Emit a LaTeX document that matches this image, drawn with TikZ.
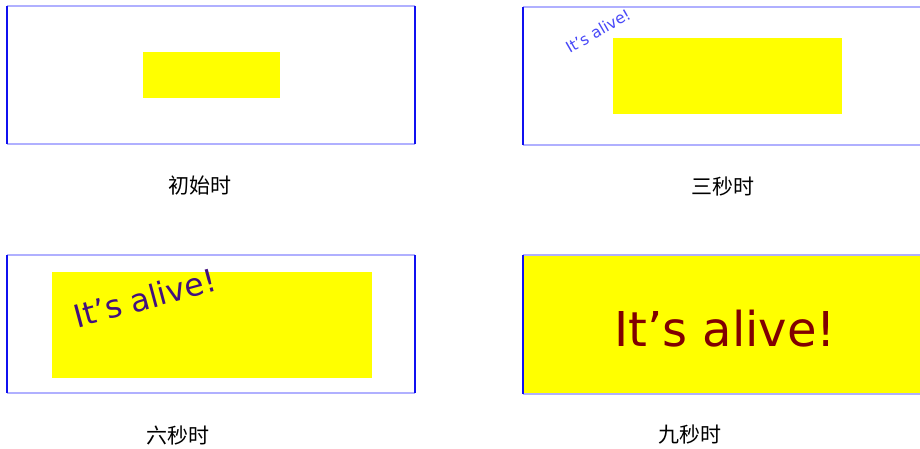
\documentclass[tikz,border=0pt]{standalone}
\usepackage{fontspec}
\setmainfont{DejaVu Sans}
\newfontfamily\cjk{Noto Sans CJK SC}
\definecolor{sideblue}{HTML}{1010F0}
\definecolor{edgeblue}{HTML}{B0B0FF}
\definecolor{lemon}{HTML}{FFFF00}
\definecolor{faintblue}{HTML}{4848F8}
\definecolor{indigo}{HTML}{42107E}
\definecolor{maroon}{HTML}{800000}

\begin{document}
\begin{tikzpicture}[x=1pt,y=-1pt,
 caption/.style={font=\cjk\fontsize{21}{23}\selectfont,text=black},
 alive/.style={font=\fontsize{#1}{#1}\selectfont,inner sep=0pt},
 sides/.style={draw=sideblue,line width=2pt},
 edges/.style={draw=edgeblue,line width=2.4pt}]
\path[use as bounding box,fill=white] (0,0) rectangle (920,449);
% yellow boxes first, frame lines on top
\fill[lemon] (143,52) rectangle (280,98);
\fill[lemon] (613,38) rectangle (842,114);
\fill[lemon] (52,272) rectangle (372,378);
\fill[lemon] (524,256) rectangle (922,393);
% frames: light top and bottom, strong sides
\foreach \x/\y/\w/\h in {7/6/408/138, 523/7/400/138, 7/255/408/138, 523/255/400/139}{
 \draw[edges] (\x,\y) -- ++(\w,0);
 \draw[edges] (\x,\y+\h) -- ++(\w,0);
 \draw[sides] (\x,\y) -- ++(0,\h);
 \draw[sides] (\x+\w,\y) -- ++(0,\h);
}
\node[alive=15.5,text=faintblue,rotate=30] (txt2) at (598,31) {It’s alive!};
\node[alive=31.5,text=indigo,rotate=15] (txt3) at (145,298) {It’s alive!};
\node[alive=48,text=maroon] (txt4) at (725,329) {It’s alive!};
\node[caption] (lab1) at (200,186) {初始时};
\node[caption] (lab2) at (723,186) {三秒时};
\node[caption] (lab3) at (178,435) {六秒时};
\node[caption] (lab4) at (690,435) {九秒时};
\end{tikzpicture}
\end{document}
